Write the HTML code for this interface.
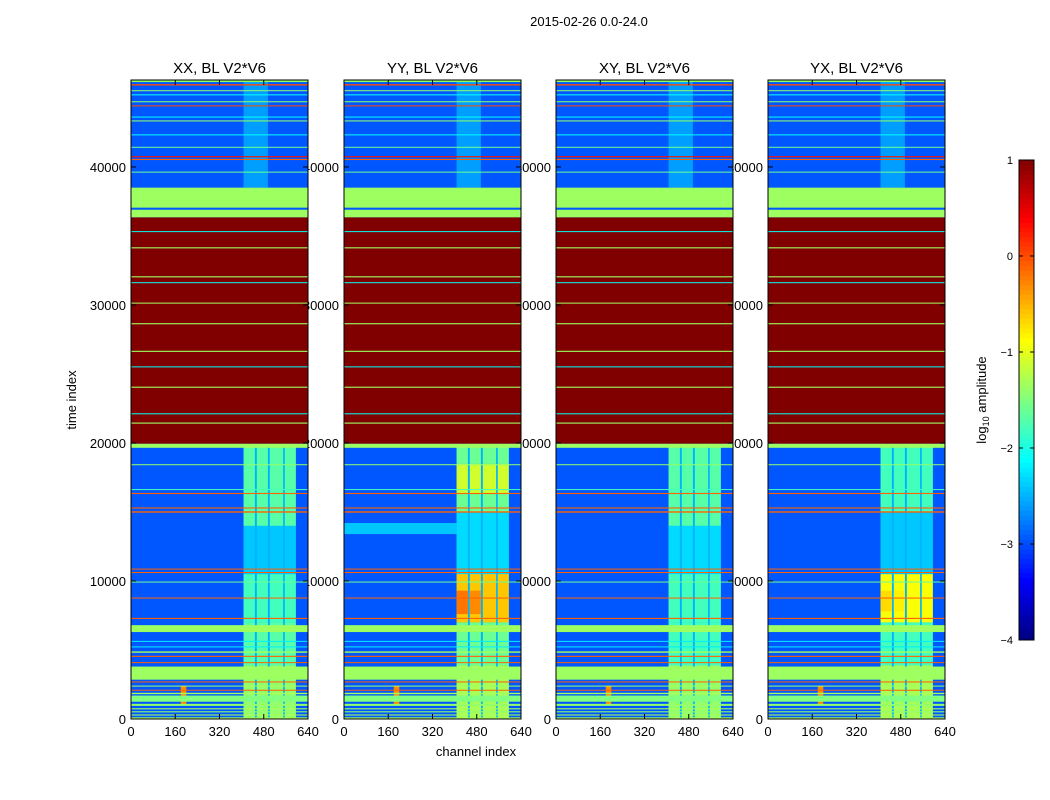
<!DOCTYPE html>
<html><head><meta charset="utf-8"><style>
html,body{margin:0;padding:0;background:#fff;}
svg{display:block;font-family:"Liberation Sans",sans-serif;}
</style></head><body>
<svg id="fig" width="1050" height="800" viewBox="0 0 1050 800">
<rect width="1050" height="800" fill="#fff"/>
<text x="589" y="26" font-size="13" text-anchor="middle">2015-02-26 0.0-24.0</text>
<text x="476" y="756" font-size="13" text-anchor="middle">channel index</text>
<text x="76" y="400" font-size="13" text-anchor="middle" transform="rotate(-90 76 400)">time index</text>
<text x="986" y="400" font-size="13" text-anchor="middle" transform="rotate(-90 986 400)">log<tspan font-size="9" dy="3">10</tspan><tspan dy="-3"> amplitude</tspan></text>
<g id="panels"></g>
<g id="cbar"></g>
</svg>
<script>
const panelTitles = ["XX, BL V2*V6","YY, BL V2*V6","XY, BL V2*V6","YX, BL V2*V6"];
const xTicks = [0,160,320,480,640];
const yTicks = [0,10000,20000,30000,40000];
const cbarTicks = [1,0,-1,-2,-3,-4];
const tMax = 46300, chMax = 640, vMin = -4, vMax = 1;
const bgValue = -2.95;
// channel groups of the bright RFI-like columns
const colGroups = [[407,448],[455,495],[502,550],[556,596]];
const colGapValue = -2.5;
// per-panel time segments for the column groups: [tStart, tEnd, value]
const segXX = [[0,3900,-1.4],[3900,7000,-1.7],[7000,10500,-1.8],[10500,14000,-2.4],[14000,19700,-1.7]];
const segYY = [[0,3900,-1.3],[3900,7000,-1.6],[7000,10500,-0.6],[10500,15000,-2.3],[15000,16300,-1.6],[16300,18500,-1.1],[18500,19700,-1.6]];
const segXY = [[0,3900,-1.4],[3900,7000,-1.8],[7000,10500,-1.8],[10500,14000,-2.3],[14000,19700,-1.7]];
const segYX = [[0,3900,-1.3],[3900,7000,-1.8],[7000,10500,-0.9],[10500,15000,-2.4],[15000,19700,-1.8]];
const panelSegments = [segXX, segYY, segXY, segYX];
// extra blocks: [chStart, chEnd, tStart, tEnd, value]
const blocksXX = [[407,495,38500,46300,-2.6],[180,200,1000,2400,-0.3]];
const blocksYY = [[0,407,13400,14200,-2.4],[407,448,7600,9300,-0.2],[455,495,7600,9300,-0.3],[407,495,38500,46300,-2.6],[180,200,1000,2400,-0.3]];
const blocksXY = [[407,495,38500,46300,-2.6],[180,200,1000,2400,-0.3]];
const blocksYX = [[407,448,7800,9300,-0.7],[455,495,7800,9300,-0.8],[407,495,38500,46300,-2.6],[180,200,1000,2400,-0.3]];
const panelBlocks = [blocksXX, blocksYY, blocksXY, blocksYX];
// row bands shared by all panels: [tStart, tEnd, log value]
const rowBands = [
 [0,120,-1.3],[250,330,-1.3],[480,560,-1.4],[700,780,-1.3],[950,1100,-1.4],[1250,1700,-1.5],[1800,1900,-1.3],[2050,2120,-0.1],[2350,2420,-1.3],[2650,2720,-0.1],
 [2850,3800,-1.35],[4050,4120,-0.1],[4500,4580,-0.1],[4800,4900,-1.3],[5200,5260,-2.2],[5600,5660,-2.2],
 [6300,6800,-1.35],[7250,7330,-0.1],[8730,8800,-0.1],[9900,9960,-1.6],[10580,10650,-0.1],[10830,10900,-0.1],
 [14950,15050,-0.1],[15250,15330,-0.1],[16300,16380,-0.1],[16600,16660,-1.8],[18400,18460,-1.4],
 [19650,19950,-1.35],[19950,36350,1],
 [21400,21480,-1.35],[22100,22150,-2.1],[24000,24080,-1.35],[25500,25550,-2.1],[26600,26680,-1.35],[28600,28680,-1.35],[30100,30170,-1.35],[31600,31650,-2.1],[32000,32080,-1.35],[34100,34180,-1.35],[35300,35350,-2.1],
 [36350,36900,-1.35],[37050,38500,-1.35],
 [39600,39660,-1.6],[40500,40580,-0.1],[40700,40780,0.3],[41400,41460,-1.6],[42300,42360,-2.1],[43300,43370,-1.4],[43600,43650,-2.1],[44400,44460,0.0],[44700,44760,-1.4],[45200,45260,-2.1],[45500,45560,-1.4],[45900,46000,0.0],[46150,46300,-1.4]
];
const panelX = [131,344,556,768];
const PW = 177, PT = 80, PB = 719;
const NS = "http://www.w3.org/2000/svg";
function jet(v){
  const n = Math.max(0,Math.min(1,(v-vMin)/(vMax-vMin)));
  const c = x => Math.round(255*Math.max(0,Math.min(1,x)));
  return `rgb(${c(1.5-Math.abs(4*n-3))},${c(1.5-Math.abs(4*n-2))},${c(1.5-Math.abs(4*n-1))})`;
}
function yScale(t){ return PB - (t/tMax)*(PB-PT); }
function mk(tag, attrs, parent){ const e=document.createElementNS(NS,tag); for(const k in attrs) e.setAttribute(k,attrs[k]); parent.appendChild(e); return e; }
const root = document.getElementById('panels');
panelX.forEach((x0,p)=>{
  yTicks.forEach(t=>{
    const tx = mk('text',{x:x0-5,y:yScale(t)+5,'font-size':13,'text-anchor':'end'},root);
    
    
    tx.textContent = t;
  });
});
panelX.forEach((x0,p)=>{
  const xs = ch => x0 + ch/chMax*PW;
  const g = mk('g',{},root);
  
  
  const bg = mk('rect',{x:x0,y:PT,width:PW,height:PB-PT,fill:jet(bgValue)},g);
  
  
  // gap base under column groups
  const gp = mk('rect',{x:xs(colGroups[0][0]),y:yScale(19700),width:xs(colGroups[3][1])-xs(colGroups[0][0]),height:yScale(0)-yScale(19700),fill:jet(colGapValue)},g);
  
  
  panelSegments[p].forEach(s=>{
    colGroups.forEach(cg=>{
      const r = mk('rect',{x:xs(cg[0]),y:yScale(s[1]),width:xs(cg[1])-xs(cg[0]),height:yScale(s[0])-yScale(s[1]),fill:jet(s[2])},g);
      
      
    });
  });
  panelBlocks[p].forEach(b=>{
    const r = mk('rect',{x:xs(b[0]),y:yScale(b[3]),width:xs(b[1])-xs(b[0]),height:yScale(b[2])-yScale(b[3]),fill:jet(b[4])},g);
    
    
  });
  rowBands.forEach(b=>{
    const y1=yScale(b[1]), y0=yScale(b[0]);
    const r = mk('rect',{x:x0,y:y1,width:PW,height:Math.max(1,y0-y1),fill:jet(b[2])},g);
    
    
  });
  const fr = mk('rect',{x:x0,y:PT,width:PW,height:PB-PT,fill:'none',stroke:'#000','stroke-width':1},g);
  
  
  const tt = mk('text',{x:x0+PW/2,y:73,'font-size':15,'text-anchor':'middle'},g);
  
  
  tt.textContent = panelTitles[p];
  xTicks.forEach(c=>{
    mk('line',{x1:xs(c),x2:xs(c),y1:PB,y2:PB-5,stroke:'#000'},g);
    mk('line',{x1:xs(c),x2:xs(c),y1:PT,y2:PT+5,stroke:'#000'},g);
    const tx = mk('text',{x:xs(c),y:PB+17,'font-size':13,'text-anchor':'middle'},g);
    
    
    tx.textContent = c;
  });
  yTicks.forEach(t=>{
    mk('line',{x1:x0,x2:x0+5,y1:yScale(t),y2:yScale(t),stroke:'#000'},g);
    mk('line',{x1:x0+PW,x2:x0+PW-5,y1:yScale(t),y2:yScale(t),stroke:'#000'},g);
  });
});
const cb = document.getElementById('cbar');
const CX=1019, CW=15, CT=160, CB=640;
const cy = v => CB - (v-vMin)/(vMax-vMin)*(CB-CT);
for(let i=0;i<100;i++){
  const v0 = vMin + i*(vMax-vMin)/100, v1 = v0+(vMax-vMin)/100;
  mk('rect',{x:CX,y:cy(v1),width:CW,height:cy(v0)-cy(v1)+0.5,fill:jet((v0+v1)/2)},cb);
}
const cf = mk('rect',{x:CX,y:CT,width:CW,height:CB-CT,fill:'none',stroke:'#000'},cb);


cbarTicks.forEach(v=>{
  mk('line',{x1:CX,x2:CX+4,y1:cy(v),y2:cy(v),stroke:'#000'},cb);
  mk('line',{x1:CX+CW,x2:CX+CW-4,y1:cy(v),y2:cy(v),stroke:'#000'},cb);
  const tx = mk('text',{x:1013,y:cy(v)+4,'font-size':11,'text-anchor':'end'},cb);
  
  
  tx.textContent = v<0 ? '\u2212'+(-v) : v;
});
</script>
</body></html>
